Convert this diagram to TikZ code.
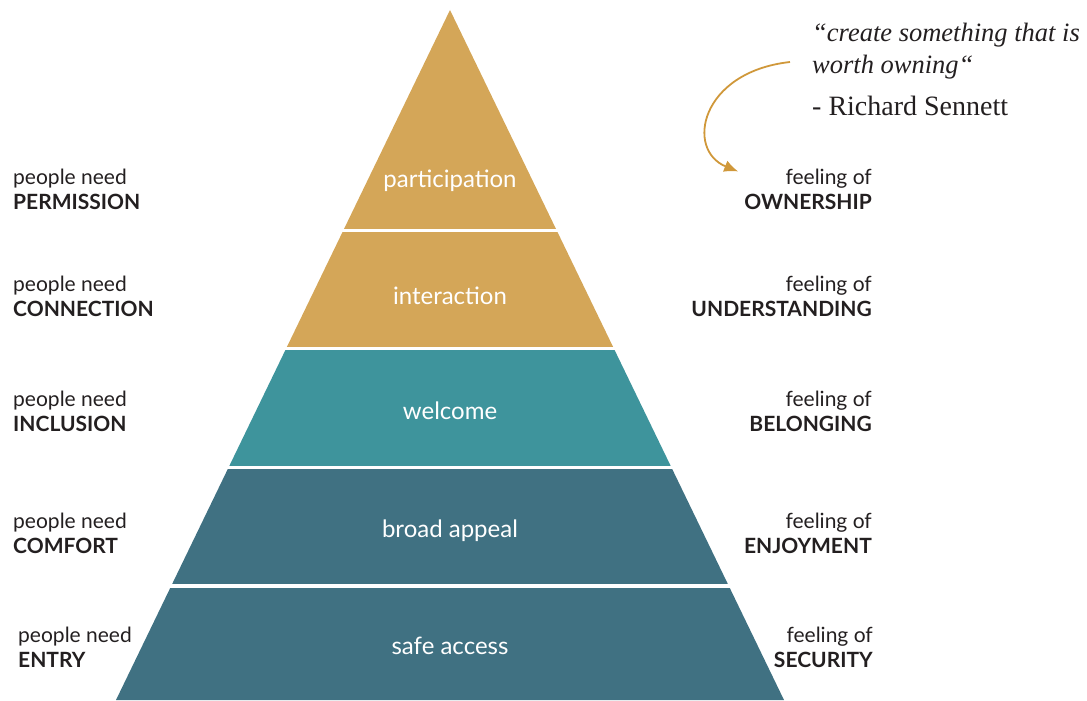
\documentclass[tikz,border=0pt]{standalone}
\usepackage{fontspec}
\newfontfamily\labelfont{Lato}
\newfontfamily\quotefont{Liberation Serif}
\usetikzlibrary{arrows.meta}
\definecolor{gold}{RGB}{212,166,88}
\definecolor{teal}{RGB}{62,148,156}
\definecolor{slate}{RGB}{64,113,130}
\definecolor{ink}{RGB}{35,31,32}
\definecolor{arrowgold}{RGB}{208,152,58}

\begin{document}
\begin{tikzpicture}
		[x=1pt,y=-1pt,
		every node/.style={font=\labelfont\fontsize{21}{25}\selectfont,text=ink,inner sep=0pt},
		need/.style={anchor=west,align=left},
		feel/.style={anchor=east,align=right},
		band/.style={text=white,font=\labelfont\fontsize{24}{26}\selectfont},
		quote/.style={anchor=west,font=\quotefont\fontsize{26.5}{30}\selectfont}]
		\useasboundingbox (0,0) rectangle (1087,701);
		% pyramid bands: top/bottom/colour
		\foreach \t/\b/\c in {10/228/gold,232/346/gold,350/465/teal,469/583/slate,588/700/slate}{
			\begin{scope}
				\clip (0,\t) rectangle (1087,\b);
				\fill[\c] (450,10) -- (784,700) -- (116,700) -- cycle;
			\end{scope}}
		\node[band] (part) at (450,181) {participation};
		\node[band] (inter) at (450,296) {interaction};
		\node[band] (welc) at (450,411) {welcome};
		\node[band] (appeal) at (450,531) {broad appeal};
		\node[band] (safe) at (450,646) {safe access};
		% left column
		\node[need] (perm) at (13,189) {people need\\\textbf{PERMISSION}};
		\node[need] (conn) at (13,296) {people need\\\textbf{CONNECTION}};
		\node[need] (incl) at (13,411) {people need\\\textbf{INCLUSION}};
		\node[need] (comf) at (13,533) {people need\\\textbf{COMFORT}};
		\node[need] (entry) at (18,647) {people need\\\textbf{ENTRY}};
		% right column
		\node[feel] (own) at (872,189) {feeling of\\\textbf{OWNERSHIP}};
		\node[feel] (under) at (872,296) {feeling of\\\textbf{UNDERSTANDING}};
		\node[feel] (belong) at (872,411) {feeling of\\\textbf{BELONGING}};
		\node[feel] (enjoy) at (872,533) {feeling of\\\textbf{ENJOYMENT}};
		\node[feel] (secur) at (873,647) {feeling of\\\textbf{SECURITY}};
		% quote
		\node[quote] (q1) at (812,35) {\itshape “create something that is};
		\node[quote] (q2) at (812,67) {\itshape worth owning“};
		\node[quote,font=\quotefont\fontsize{28}{30}\selectfont] (q3) at (812,106) {- Richard Sennett};
		\draw[arrowgold,line width=1.8,-{Latex[length=14,width=12]}]
			([xshift=-22pt,yshift=5pt]q2.west) .. controls (700,72) and (685,150) .. ([xshift=-6pt,yshift=-3pt]own.north west);
\end{tikzpicture}
\end{document}
